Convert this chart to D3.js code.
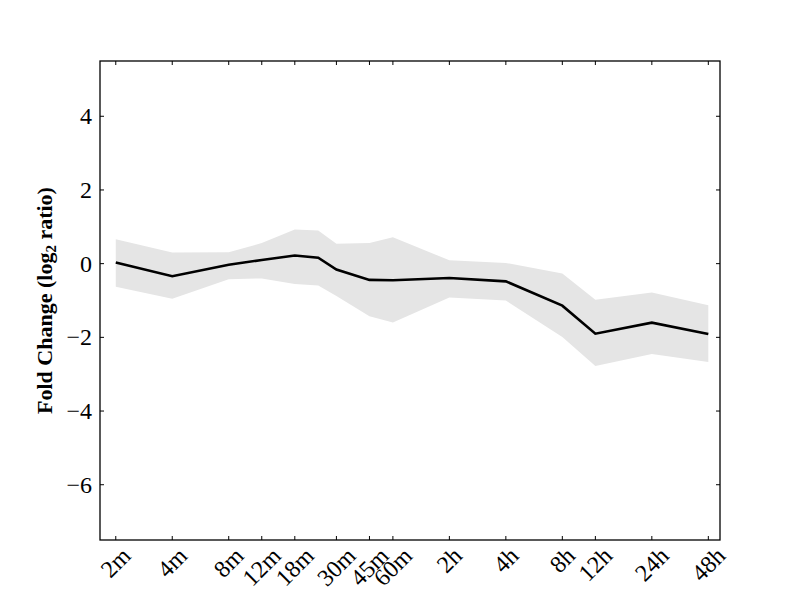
<!DOCTYPE html>
<html><head><meta charset="utf-8">
<script src="https://cdn.jsdelivr.net/npm/d3@7"></script>
<style>body{margin:0;background:#fff}</style>
</head><body>
<script>
const times = [2,4,8,12,18,24,30,45,60,120,240,480,720,1440,2880]; // minutes
const meanVals = [0.03,-0.34,-0.03,0.10,0.22,0.16,-0.16,-0.44,-0.45,-0.39,-0.48,-1.14,-1.90,-1.60,-1.91];
const upperVals = [0.66,0.30,0.31,0.56,0.93,0.90,0.54,0.56,0.72,0.09,0.02,-0.27,-0.98,-0.78,-1.13];
const lowerVals = [-0.63,-0.95,-0.42,-0.40,-0.55,-0.59,-0.88,-1.43,-1.60,-0.92,-1.00,-1.99,-2.78,-2.45,-2.67];
const tickTimes = [2,4,8,12,18,30,45,60,120,240,480,720,1440,2880];
const tickLabels = ["2m","4m","8m","12m","18m","30m","45m","60m","2h","4h","8h","12h","24h","48h"];
const yTicks = [-6,-4,-2,0,2,4];

const W=800,H=600, L=100,R=720,T=61,B=540;
const svg = d3.select("body").append("svg").attr("width",W).attr("height",H);
const x = d3.scaleLog().domain([1.648,3324]).range([L,R]);
const y = d3.scaleLinear().domain([-7.5,5.5]).range([B,T]);
const data = times.map((t,i)=>({t,m:meanVals[i],u:upperVals[i],l:lowerVals[i]}));

svg.append("path").datum(data)
  .attr("d", d3.area().x(d=>x(d.t)).y0(d=>y(d.l)).y1(d=>y(d.u)))
  .attr("fill","#e5e5e5");
svg.append("path").datum(data)
  .attr("d", d3.line().x(d=>x(d.t)).y(d=>y(d.m)))
  .attr("fill","none").attr("stroke","#000").attr("stroke-width",2.6).attr("stroke-linejoin","miter");

// frame
svg.append("rect").attr("x",L).attr("y",T).attr("width",R-L).attr("height",B-T)
  .attr("fill","none").attr("stroke","#000").attr("stroke-width",1.3);

const font = "'Liberation Serif', 'DejaVu Serif', serif";
const fs = 24;
// ticks
const tk = 4;
tickTimes.forEach((t,i)=>{
  const px = x(t);
  svg.append("line").attr("x1",px).attr("x2",px).attr("y1",B).attr("y2",B-tk).attr("stroke","#000");
  svg.append("line").attr("x1",px).attr("x2",px).attr("y1",T).attr("y2",T+tk).attr("stroke","#000");
  const txt = svg.append("text").text(tickLabels[i])
    .attr("font-family",font).attr("font-size",fs)
    .attr("text-anchor","middle").attr("dominant-baseline","central");
  const w = txt.node().getComputedTextLength();
  const h = 16;
  const cy = 546 + (w + h)/(2*Math.SQRT2);
  txt.attr("transform",`translate(${px},${cy}) rotate(-45)`);
});
yTicks.forEach(v=>{
  const py = y(v);
  svg.append("line").attr("x1",L).attr("x2",L+tk).attr("y1",py).attr("y2",py).attr("stroke","#000");
  svg.append("line").attr("x1",R).attr("x2",R-tk).attr("y1",py).attr("y2",py).attr("stroke","#000");
  svg.append("text").text(v<0?"\u2212"+Math.abs(v):String(v))
    .attr("x",L-8).attr("y",py).attr("text-anchor","end").attr("dominant-baseline","central")
    .attr("font-family",font).attr("font-size",fs);
});

const yl = svg.append("text").attr("transform",`translate(52,${(T+B)/2}) rotate(-90)`)
  .attr("text-anchor","middle").attr("font-family",font).attr("font-size",22).attr("font-weight","bold");
yl.append("tspan").text("Fold Change (log");
yl.append("tspan").text("2").attr("font-size",15).attr("dy",4);
yl.append("tspan").text(" ratio)").attr("dy",-4);
</script>
</body></html>
